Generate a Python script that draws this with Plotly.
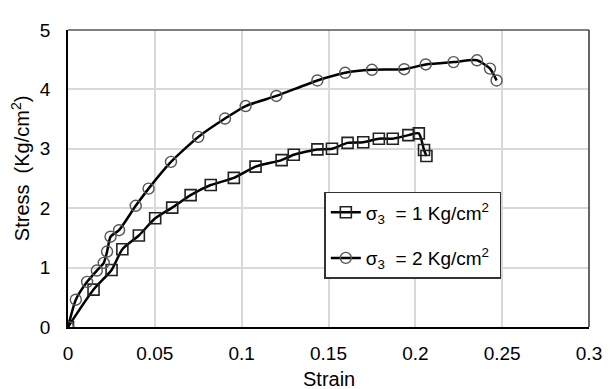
import plotly.graph_objects as go

# Data
strain_1 = [0, 0.0147, 0.0251, 0.0313, 0.0408, 0.0502, 0.060, 0.0706, 0.0822, 0.0955,
            0.108, 0.123, 0.130, 0.1436, 0.152, 0.161, 0.170, 0.179, 0.187, 0.196,
            0.202, 0.205, 0.2064]
stress_1 = [0, 0.63, 0.96, 1.31, 1.54, 1.83, 2.01, 2.22, 2.39, 2.51,
            2.70, 2.81, 2.90, 2.99, 3.00, 3.10, 3.11, 3.17, 3.17, 3.23,
            3.26, 2.98, 2.88]

strain_2 = [0, 0.0045, 0.011, 0.0166, 0.0206, 0.0225, 0.0245, 0.0294, 0.039, 0.0464,
            0.0593, 0.075, 0.0904, 0.1023, 0.120, 0.1436, 0.1596, 0.175, 0.1936,
            0.206, 0.222, 0.2355, 0.243, 0.2468]
stress_2 = [0, 0.46, 0.76, 0.95, 1.08, 1.27, 1.52, 1.63, 2.04, 2.33,
            2.78, 3.20, 3.51, 3.72, 3.89, 4.15, 4.28, 4.33, 4.34,
            4.42, 4.46, 4.49, 4.35, 4.15]

names = ["σ<sub>3</sub>  = 1 Kg/cm<sup>2</sup>&nbsp;", "σ<sub>3</sub>  = 2 Kg/cm<sup>2</sup>&nbsp;"]
x_ticks = [0, 0.05, 0.1, 0.15, 0.2, 0.25, 0.3]
x_tick_text = ["0", "0.05", "0.1", "0.15", "0.2", "0.25", "0.3"]
y_ticks = [0, 1, 2, 3, 4, 5]

FONT = "Liberation Sans, Arial, sans-serif"

fig = go.Figure()
fig.add_trace(go.Scatter(
    x=strain_1, y=stress_1, name=names[0], mode="lines+markers",
    line=dict(color="black", width=2.5, shape="spline", smoothing=0.6),
    marker=dict(symbol="square-open", size=11, color="#222222", line=dict(width=1.6)),
    legendgroup="a",
))
fig.add_trace(go.Scatter(
    x=strain_2, y=stress_2, name=names[1], mode="lines+markers",
    line=dict(color="black", width=2.5, shape="spline", smoothing=0.6),
    marker=dict(symbol="circle-open", size=11, color="#555555", line=dict(width=1.4)),
    legendgroup="b",
))

fig.update_layout(
    width=606, height=381,
    margin=dict(l=60, r=15, t=16, b=62),
    paper_bgcolor="white", plot_bgcolor="white",
    font=dict(family=FONT, size=19, color="black"),
    showlegend=True,
    legend=dict(
        x=0.492, y=0.455, xanchor="left", yanchor="top",
        bordercolor="#333333", borderwidth=1.5, bgcolor="white",
        font=dict(family=FONT, size=19, color="black"),
        tracegroupgap=18, itemwidth=30,
    ),
    xaxis=dict(
        range=[0, 0.3], tickvals=x_ticks, ticktext=x_tick_text,
        showgrid=True, gridcolor="#d9d9d9", gridwidth=1.5,
        zeroline=False, showline=True, linecolor="black", linewidth=1.5,
        ticks="", ticklabelstandoff=8, ticklabeloverflow="allow",
        tickfont=dict(family=FONT, size=19),
    ),
    yaxis=dict(
        range=[0, 5], tickvals=y_ticks,
        showgrid=True, gridcolor="#d9d9d9", gridwidth=1.5,
        zeroline=False, showline=True, linecolor="black", linewidth=1.5,
        ticks="", ticklabelstandoff=12,
        tickfont=dict(family=FONT, size=19),
    ),
    shapes=[
        dict(type="line", xref="paper", yref="paper", x0=0, x1=1, y0=1, y1=1,
             line=dict(color="#555555", width=1.5)),
        dict(type="line", xref="paper", yref="paper", x0=1, x1=1, y0=0, y1=1,
             line=dict(color="#333333", width=1.5)),
    ],
    annotations=[
        dict(text="Strain", xref="paper", yref="paper", x=0.5, y=-0.175,
             xanchor="center", yanchor="middle", showarrow=False,
             font=dict(family=FONT, size=20, color="black")),
        dict(text="Stress  (Kg/cm<sup>2</sup>)", xref="paper", yref="paper",
             x=-0.092, y=0.535, xanchor="center", yanchor="middle",
             textangle=-90, showarrow=False,
             font=dict(family=FONT, size=20, color="black")),
    ],
)

fig.write_html("out.html")
